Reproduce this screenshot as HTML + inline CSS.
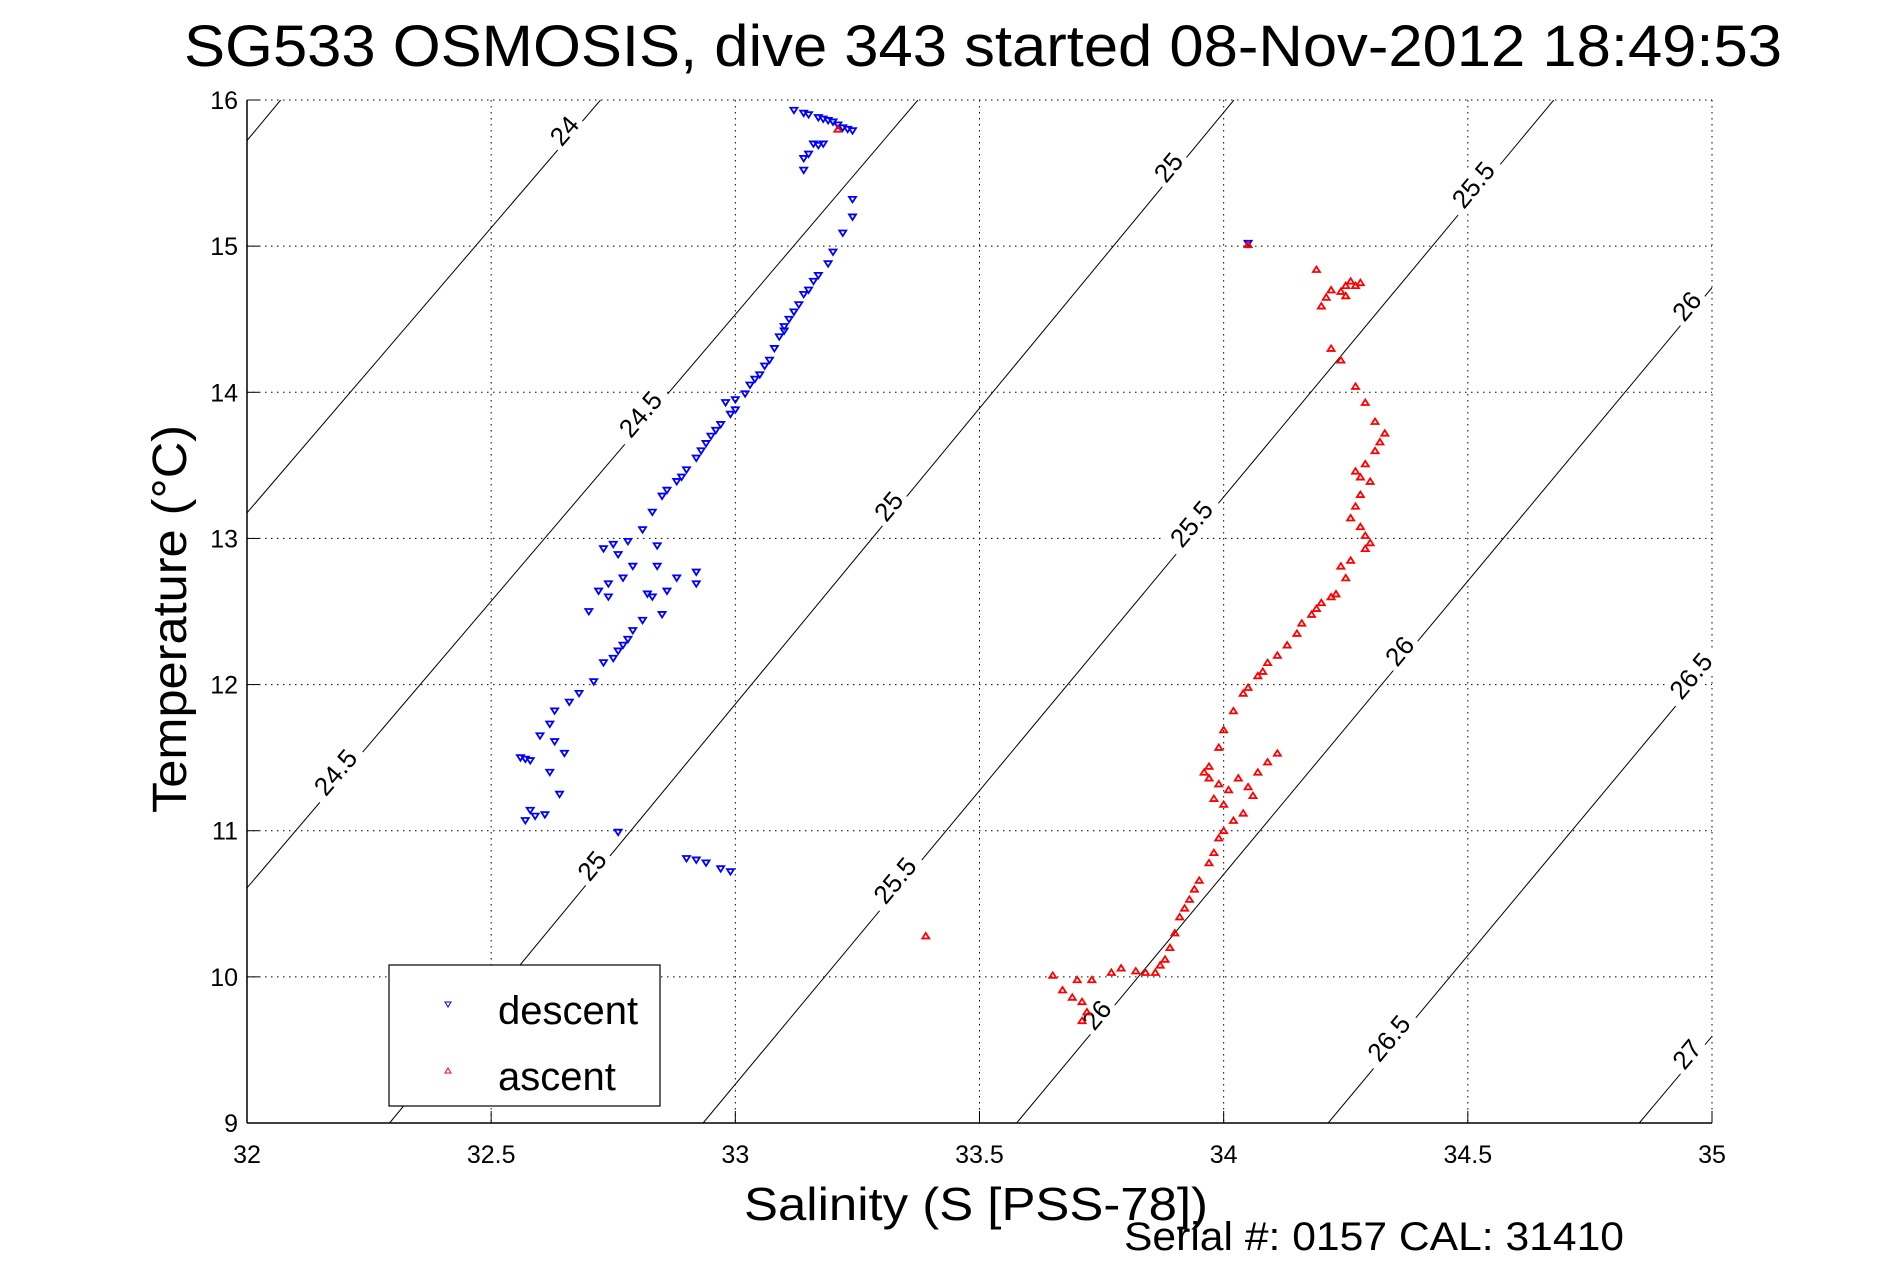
<!DOCTYPE html>
<html><head><meta charset="utf-8"><style>
html,body{margin:0;padding:0;background:#fff;}
svg{display:block;font-family:"Liberation Sans",sans-serif;}
</style></head><body>
<svg id="chart" width="1891" height="1262" viewBox="0 0 1891 1262" xmlns="http://www.w3.org/2000/svg">
<defs><clipPath id="clip"><rect x="247" y="100" width="1465" height="1023"/></clipPath></defs>
<text x="983" y="66" font-size="58" text-anchor="middle" textLength="1598" lengthAdjust="spacingAndGlyphs">SG533 OSMOSIS, dive 343 started 08-Nov-2012 18:49:53</text>
<g id="grid"></g>
<g id="contours" clip-path="url(#clip)"></g>
<g id="clabels"></g>
<g id="marks" clip-path="url(#clip)"></g>
<g id="axes"></g>
<text x="744" y="1220" font-size="46" textLength="464" lengthAdjust="spacingAndGlyphs">Salinity (S [PSS-78])</text>
<text transform="translate(186,813) rotate(-90)" font-size="48" textLength="388" lengthAdjust="spacingAndGlyphs">Temperature (°C)</text>
<text x="1124" y="1250" font-size="40" textLength="500" lengthAdjust="spacingAndGlyphs">Serial #: 0157  CAL: 31410</text>
<g>
<rect x="389" y="965" width="271" height="141" fill="#fff" stroke="#000" stroke-width="1.2"/>
<polygon points="445,1002 451,1002 448,1007" fill="none" stroke="#00f" stroke-width="1"/>
<text x="498" y="1024" font-size="40">descent</text>
<polygon points="445,1073 451,1073 448,1068" fill="none" stroke="#f00" stroke-width="1"/>
<text x="498" y="1090" font-size="40">ascent</text>
</g>
</svg>
<script>
const xTicks=[32,32.5,33,33.5,34,34.5,35];
const xTickLabels=["32","32.5","33","33.5","34","34.5","35"];
const yTicks=[9,10,11,12,13,14,15,16];
const yTickLabels=["9","10","11","12","13","14","15","16"];
const sigmaLevels=[23.5,24,24.5,25,25.5,26,26.5,27];
const sigmaSAt9=[30.33,30.93,31.59,32.292,32.934,33.576,34.214,34.851];
const sigmaSAt16=[32.069,32.724,33.374,34.021,34.676,35.32,35.96,36.61];
const sigmaLabelTemps=[[],[15.79],[13.85,11.40],[15.54,13.22,10.76],[15.42,13.10,10.66],[14.59,12.23,9.74],[12.06,9.58],[9.47]];
const descentS=[33.12,33.14,33.15,33.17,33.18,33.19,33.2,33.21,33.22,33.23,33.24,33.16,33.17,33.18,33.15,33.14,33.14,33.24,33.24,33.22,33.2,33.19,33.17,33.16,33.15,33.14,33.13,33.12,33.11,33.1,33.1,33.09,33.08,33.07,33.06,33.05,33.04,33.03,33.02,33.0,32.98,33.0,32.99,32.97,32.96,32.95,32.94,32.93,32.92,32.9,32.89,32.88,32.86,32.85,32.83,32.81,32.73,32.75,32.76,32.78,32.74,32.72,32.77,32.79,32.84,32.86,32.88,32.92,32.92,32.85,32.83,32.81,32.79,32.78,32.76,32.77,32.75,32.73,32.71,32.68,32.66,32.63,32.62,32.6,32.56,32.57,32.58,32.63,32.65,32.62,32.64,32.58,32.57,32.59,32.61,32.76,32.9,32.92,32.94,32.97,32.99,34.05,32.84,32.82,32.74,32.7];
const descentT=[15.93,15.91,15.9,15.88,15.87,15.86,15.85,15.83,15.81,15.8,15.79,15.7,15.69,15.7,15.63,15.52,15.6,15.32,15.2,15.09,14.96,14.88,14.8,14.76,14.7,14.67,14.6,14.55,14.5,14.45,14.42,14.38,14.3,14.22,14.18,14.12,14.09,14.05,13.99,13.95,13.93,13.88,13.85,13.78,13.74,13.7,13.65,13.6,13.55,13.47,13.42,13.39,13.33,13.29,13.18,13.06,12.93,12.96,12.89,12.98,12.69,12.64,12.73,12.81,12.81,12.64,12.73,12.77,12.69,12.48,12.6,12.44,12.37,12.31,12.23,12.27,12.18,12.15,12.02,11.94,11.88,11.82,11.73,11.65,11.5,11.49,11.48,11.61,11.53,11.4,11.25,11.14,11.07,11.1,11.11,10.99,10.81,10.8,10.78,10.74,10.72,15.02,12.95,12.62,12.6,12.5];
const ascentS=[34.05,33.21,34.19,34.21,34.22,34.24,34.25,34.26,34.27,34.28,34.25,34.2,34.22,34.24,34.27,34.29,34.31,34.33,34.32,34.31,34.29,34.27,34.28,34.3,34.28,34.27,34.26,34.28,34.29,34.3,34.29,34.26,34.24,34.25,34.23,34.22,34.2,34.19,34.18,34.16,34.15,34.13,34.11,34.09,34.08,34.07,34.05,34.04,34.02,34.0,33.99,33.97,33.96,33.99,33.98,33.97,34.03,34.05,34.07,34.09,34.11,34.06,34.04,34.02,34.0,33.99,33.98,33.97,33.95,33.94,33.93,33.92,33.91,33.9,33.89,33.88,33.87,33.86,33.84,33.82,33.79,33.77,33.73,33.7,33.65,33.67,33.69,33.71,33.71,33.72,33.39,34.01,34.0];
const ascentT=[15.01,15.8,14.84,14.65,14.7,14.69,14.73,14.76,14.73,14.75,14.66,14.59,14.3,14.22,14.04,13.93,13.8,13.72,13.66,13.6,13.51,13.46,13.42,13.39,13.3,13.22,13.14,13.08,13.02,12.97,12.93,12.85,12.81,12.73,12.62,12.6,12.56,12.52,12.48,12.42,12.35,12.27,12.2,12.15,12.09,12.06,11.98,11.94,11.82,11.69,11.57,11.44,11.4,11.32,11.22,11.36,11.36,11.3,11.4,11.47,11.53,11.24,11.12,11.07,11.0,10.95,10.85,10.78,10.66,10.6,10.53,10.47,10.41,10.3,10.2,10.12,10.08,10.03,10.03,10.04,10.06,10.03,9.98,9.98,10.01,9.91,9.86,9.83,9.7,9.76,10.28,11.28,11.18];

const NS="http://www.w3.org/2000/svg";
const X=s=>247+(s-32)*488.333;
const Y=t=>1123-(t-9)*146.143;
function mk(tag,attrs,parent){const e=document.createElementNS(NS,tag);for(const k in attrs)e.setAttribute(k,attrs[k]);parent.appendChild(e);return e;}
const grid=document.getElementById('grid'),axes=document.getElementById('axes');
xTicks.forEach((v,i)=>{
  const l=mk('line',{x1:X(v),x2:X(v),y1:100,y2:1123,stroke:'#000','stroke-width':1,'stroke-dasharray':'1.5,4.5'},grid);
  
  
  const tk=mk('line',{x1:X(v),x2:X(v),y1:1123,y2:1111,stroke:'#000','stroke-width':1},axes);
  
  
  const t=mk('text',{x:X(v),y:1163,'font-size':25,'text-anchor':'middle'},axes);
  t.textContent=xTickLabels[i];
  
  
});
yTicks.forEach((v,i)=>{
  const l=mk('line',{x1:247,x2:1712,y1:Y(v),y2:Y(v),stroke:'#000','stroke-width':1,'stroke-dasharray':'1.5,4.5'},grid);
  
  
  const tk=mk('line',{x1:247,x2:259,y1:Y(v),y2:Y(v),stroke:'#000','stroke-width':1},axes);
  
  
  const t=mk('text',{x:238,y:Y(v)+9,'font-size':25,'text-anchor':'end'},axes);
  t.textContent=yTickLabels[i];
  
  
});
const axL=mk('line',{x1:247,x2:247,y1:100,y2:1123,stroke:'#000','stroke-width':1.5},axes);


const axB=mk('line',{x1:247,x2:1712,y1:1123,y2:1123,stroke:'#000','stroke-width':1.5},axes);



const cg=document.getElementById('contours'),lg=document.getElementById('clabels');
sigmaLevels.forEach((lev,i)=>{
  const l=mk('line',{x1:X(sigmaSAt9[i]),y1:Y(9),x2:X(sigmaSAt16[i]),y2:Y(16),stroke:'#000','stroke-width':1},cg);
  
  
  const dx=X(sigmaSAt16[i])-X(sigmaSAt9[i]),dy=Y(16)-Y(9);
  const ang=Math.atan2(dy,dx)*180/Math.PI;
  sigmaLabelTemps[i].forEach(t=>{
    const s=sigmaSAt9[i]+(sigmaSAt16[i]-sigmaSAt9[i])*(t-9)/7;
    const g=mk('g',{transform:`translate(${X(s)-10},${Y(t)}) rotate(${ang})`},lg);
    
    
    const txt=String(lev);
    const w=txt.length*14+10;
    mk('rect',{x:-w/2,y:-14,width:w,height:28,fill:'#fff'},g);
    const tx=mk('text',{x:0,y:9,'font-size':26,'text-anchor':'middle'},g);
    tx.textContent=txt;
  });
});

const mg=document.getElementById('marks');
descentS.forEach((s,i)=>{
  const x=X(s),y=Y(descentT[i]);
  const p=mk('polygon',{points:`${x-3.5},${y-2.5} ${x+3.5},${y-2.5} ${x},${y+3}`,fill:'none',stroke:'#00f','stroke-width':1.8},mg);
  
  
});
ascentS.forEach((s,i)=>{
  const x=X(s),y=Y(ascentT[i]);
  const p=mk('polygon',{points:`${x-3.5},${y+2.5} ${x+3.5},${y+2.5} ${x},${y-3}`,fill:'none',stroke:'#f00','stroke-width':1.8},mg);
  
  
});
</script>
</body></html>
